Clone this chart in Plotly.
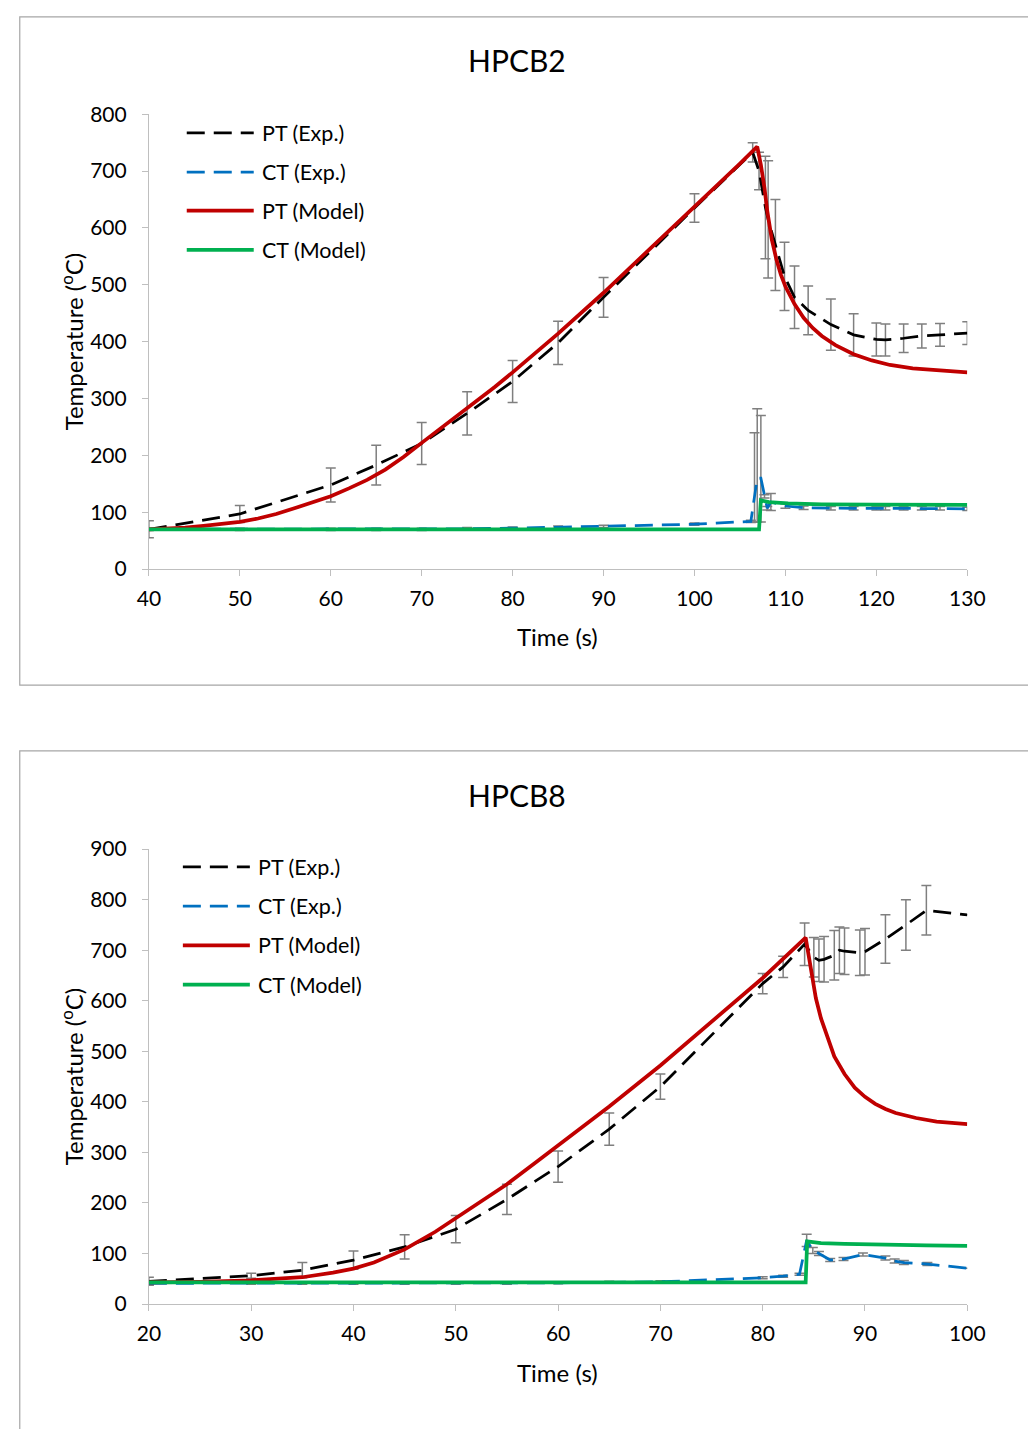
import plotly.graph_objects as go

W, H = 1028, 1429
FONT = "Lato"

# ---------------- HPCB2 data ----------------
a_pt_exp_t = [40, 50, 60, 65, 70, 75, 80, 85, 90, 100, 106.4, 107.1, 107.8, 108.1, 108.9, 109.9, 111, 112.5,
              115, 117.5, 120, 121, 123, 125, 127, 130]
a_pt_exp_v = [70, 97, 148, 183, 221, 274, 330, 398, 478, 635, 733, 700, 636, 615, 570, 515, 478, 455,
              430, 412, 404, 403, 406, 410, 412, 415]
a_pt_exp_e = [15, 15, 30, 35, 37, 38, 37, 38, 35, 25, 17, 33, 90, 103, 80, 60, 55, 43,
              45, 37, 29, 28, 25, 21, 20, 20]

a_ct_exp_t = [40, 50, 60, 65, 70, 75, 80, 85, 90, 100, 106.2, 106.6, 106.9, 107.3, 107.7, 108.0, 108.4,
              110, 112, 115, 117.5, 120, 121, 123, 125, 127, 130]
a_ct_exp_v = [70, 70, 70, 70, 70, 71, 72, 74, 75, 79, 84, 125, 160, 160, 128, 107, 118,
              111, 108, 107, 107, 107, 107, 107, 107, 107, 106]
a_ct_exp_ep = [2, 2, 2, 2, 2, 2, 2, 2, 2, 2, 2, 115, 122, 110, 3, 3, 15,
               4, 3, 3, 3, 3, 3, 3, 3, 3, 3]
a_ct_exp_em = [2, 2, 2, 2, 2, 2, 2, 2, 2, 2, 2, 42, 77, 77, 3, 3, 15,
               4, 3, 3, 3, 3, 3, 3, 3, 3, 3]

a_pt_mod_t = [40, 42, 44, 46, 48, 50, 52, 54, 56, 58, 60, 62, 64, 66, 68, 70, 72, 74, 76, 78, 80, 85, 90,
              95, 100, 105, 106.9, 107.3, 107.7, 108.0, 108.5, 109.0, 109.5, 110.0, 111.0, 112.0, 113.0,
              114.0, 115.5, 117.5, 119.5, 121.5, 124, 127, 130]
a_pt_mod_v = [70, 71, 73, 76, 79, 83, 89, 97, 107, 117, 128, 142, 157, 175, 197, 222, 246, 270, 295, 320,
              346, 414, 486, 561, 636, 713, 743, 711, 670, 630, 580, 545, 518, 497, 466, 442, 424,
              410, 394, 378, 367, 359, 353, 349, 346]

a_ct_mod_t = [40, 107.1, 107.3, 108.2, 110.3, 114, 120, 130]
a_ct_mod_v = [70, 70, 121, 118, 115.6, 114, 113.5, 113]

# ---------------- HPCB8 data ----------------
b_pt_exp_t = [20, 30, 35, 40, 45, 50, 55, 60, 65, 70, 80, 82, 84.1, 85, 85.5, 86, 87, 87.5, 88, 89.5,
              90, 92, 94, 96, 100]
b_pt_exp_v = [45, 56, 67, 87, 113, 148, 207, 272, 346, 430, 634, 667, 712, 686, 680, 682, 690, 700, 698,
              695, 697, 722, 750, 779, 770]
b_pt_exp_e = [8, 5, 15, 18, 24, 27, 30, 31, 32, 25, 20, 21, 42, 39, 42, 45, 49, 46, 46, 45,
              46, 48, 50, 49, None]

b_ct_exp_t = [20, 30, 35, 40, 45, 50, 55, 60, 65, 70, 80, 82, 83.6, 84.3, 84.9, 85.5, 86.6, 87.9, 89.8,
              92, 92.9, 93.8, 96.1, 100]
b_ct_exp_v = [41, 41, 41, 41, 41, 41, 41, 42, 43, 44, 52, 55, 59, 126, 106, 100, 87, 89, 98,
              91, 85, 82, 79, 71]
b_ct_exp_e = [3, 2, 2, 2, 2, 2, 2, 2, 2, 2, 2, 2, 2, 12, 6, 4, 3, 3, 3,
              4, 4, 4, 3, None]

b_pt_mod_t = [20, 25, 30, 35, 38, 40, 42, 45, 48, 50, 52, 55, 58, 60, 62, 65, 70, 75, 80, 84.2,
              84.5, 84.8, 85.2, 85.7, 86.3, 87, 88, 89, 90, 91, 92, 93, 95, 97, 100]
b_pt_mod_v = [43, 44, 47, 53, 62, 70, 82, 108, 143, 170, 197, 237, 283, 314, 345, 391, 472, 558, 645, 725,
              690, 650, 605, 565, 530, 490, 455, 428, 410, 396, 386, 378, 368, 361, 356]

b_ct_mod_t = [20, 84.2, 84.35, 85.7, 88, 92, 96, 100]
b_ct_mod_v = [43, 43, 124, 120.5, 119, 117, 116, 115]

# ---------------- labels ----------------
titles = ["HPCB2", "HPCB8"]
series_names = ["PT (Exp.)", "CT (Exp.)", "PT (Model)", "CT (Model)"]
x_title = "Time (s)"
y_title = "Temperature (<sup>o</sup>C)"

C_BLACK = "#000000"
C_BLUE = "#0070C0"
C_RED = "#C00000"
C_GREEN = "#00B050"
C_ERR = "#7F7F7F"
DASH = "18px,9px"


def px(x):
    return x / W


def py(y):
    return 1 - y / H


fig = go.Figure()


def err(vals):
    return dict(type="data", array=vals, visible=True, color=C_ERR, thickness=1.5, width=5)


def add_panel(xa, ya, pt_e, ct_e, pt_m, ct_m):
    fig.add_trace(go.Scatter(x=pt_e[0], y=pt_e[1], mode="lines", xaxis=xa, yaxis=ya,
                             line=dict(color=C_BLACK, width=2.75, dash=DASH),
                             error_y=err(pt_e[2]), showlegend=False, name=series_names[0]))
    ey = err(ct_e[2])
    if len(ct_e) > 3:
        ey["symmetric"] = False
        ey["arrayminus"] = ct_e[3]
    fig.add_trace(go.Scatter(x=ct_e[0], y=ct_e[1], mode="lines", xaxis=xa, yaxis=ya,
                             line=dict(color=C_BLUE, width=2.75, dash=DASH),
                             error_y=ey, showlegend=False, name=series_names[1]))
    fig.add_trace(go.Scatter(x=pt_m[0], y=pt_m[1], mode="lines", xaxis=xa, yaxis=ya,
                             line=dict(color=C_RED, width=3.75), showlegend=False, name=series_names[2]))
    fig.add_trace(go.Scatter(x=ct_m[0], y=ct_m[1], mode="lines", xaxis=xa, yaxis=ya,
                             line=dict(color=C_GREEN, width=3.75), showlegend=False, name=series_names[3]))


add_panel("x", "y",
          (a_pt_exp_t, a_pt_exp_v, a_pt_exp_e),
          (a_ct_exp_t, a_ct_exp_v, a_ct_exp_ep, a_ct_exp_em),
          (a_pt_mod_t, a_pt_mod_v), (a_ct_mod_t, a_ct_mod_v))
add_panel("x2", "y2",
          (b_pt_exp_t, b_pt_exp_v, b_pt_exp_e),
          (b_ct_exp_t, b_ct_exp_v, b_ct_exp_e),
          (b_pt_mod_t, b_pt_mod_v), (b_ct_mod_t, b_ct_mod_v))

axis_common = dict(showline=True, linecolor="#BFBFBF", linewidth=1, showgrid=False, zeroline=False,
                   ticks="outside", ticklen=6, tickcolor="#BFBFBF", tickwidth=1,
                   tickfont=dict(family=FONT, size=21, color="#000000"))

dom_x = [px(141), px(984)]
fig.update_layout(
    width=W, height=H, margin=dict(l=0, r=0, t=0, b=0),
    paper_bgcolor="white", plot_bgcolor="white", showlegend=False,
    xaxis=dict(domain=dom_x, range=[40, 130], dtick=10, tick0=40, anchor="y",
               ticklabelstandoff=5, **axis_common),
    yaxis=dict(domain=[py(565), py(102)], range=[0, 800], dtick=100, anchor="x",
               ticklabelstandoff=11, **axis_common),
    xaxis2=dict(domain=dom_x, range=[20, 100], dtick=10, tick0=20, anchor="y2",
                ticklabelstandoff=5, **axis_common),
    yaxis2=dict(domain=[py(1313), py(850)], range=[0, 900], dtick=100, anchor="x2",
                ticklabelstandoff=11, **axis_common),
)

shapes = []
annotations = []

# chart-area borders
shapes.append(dict(type="rect", xref="paper", yref="paper", x0=px(8), x1=1.02, y0=py(683), y1=py(3),
                   line=dict(color="#A6A6A6", width=1.2), fillcolor="rgba(0,0,0,0)", layer="below"))
shapes.append(dict(type="rect", xref="paper", yref="paper", x0=px(8), x1=1.02, y0=-0.02, y1=py(750),
                   line=dict(color="#A6A6A6", width=1.2), fillcolor="rgba(0,0,0,0)", layer="below"))

panel_cfg = [
    dict(title_y=47, xt_y=634, yt_y=333, leg_x=180, leg_y=[121, 161, 200, 240]),
    dict(title_y=795, xt_y=1383, yt_y=1081, leg_x=176, leg_y=[868, 908, 948, 988]),
]
leg_styles = [(C_BLACK, DASH, 2.75), (C_BLUE, DASH, 2.75), (C_RED, "solid", 3.75), (C_GREEN, "solid", 3.75)]

for i, cfg in enumerate(panel_cfg):
    annotations.append(dict(text=titles[i], xref="paper", yref="paper", x=px(520), y=py(cfg["title_y"]),
                            showarrow=False, xanchor="center", yanchor="middle",
                            font=dict(family=FONT, size=30, color="#000000")))
    annotations.append(dict(text=x_title, xref="paper", yref="paper", x=px(562), y=py(cfg["xt_y"]),
                            showarrow=False, xanchor="center", yanchor="middle",
                            font=dict(family=FONT, size=24, color="#000000")))
    annotations.append(dict(text=y_title, xref="paper", yref="paper", x=px(62), y=py(cfg["yt_y"]),
                            showarrow=False, xanchor="center", yanchor="middle", textangle=-90,
                            font=dict(family=FONT, size=24, color="#000000")))
    for k, (col, dsh, lw) in enumerate(leg_styles):
        yy = py(cfg["leg_y"][k])
        shapes.append(dict(type="line", xref="paper", yref="paper",
                           x0=px(cfg["leg_x"]), x1=px(cfg["leg_x"] + 69), y0=yy, y1=yy,
                           line=dict(color=col, width=lw, dash=dsh)))
        annotations.append(dict(text=series_names[k], xref="paper", yref="paper",
                                x=px(cfg["leg_x"] + 75), y=yy, showarrow=False,
                                xanchor="left", yanchor="middle",
                                font=dict(family=FONT, size=21.5, color="#000000")))

fig.update_layout(shapes=shapes, annotations=annotations)

fig.write_html("out.html")
